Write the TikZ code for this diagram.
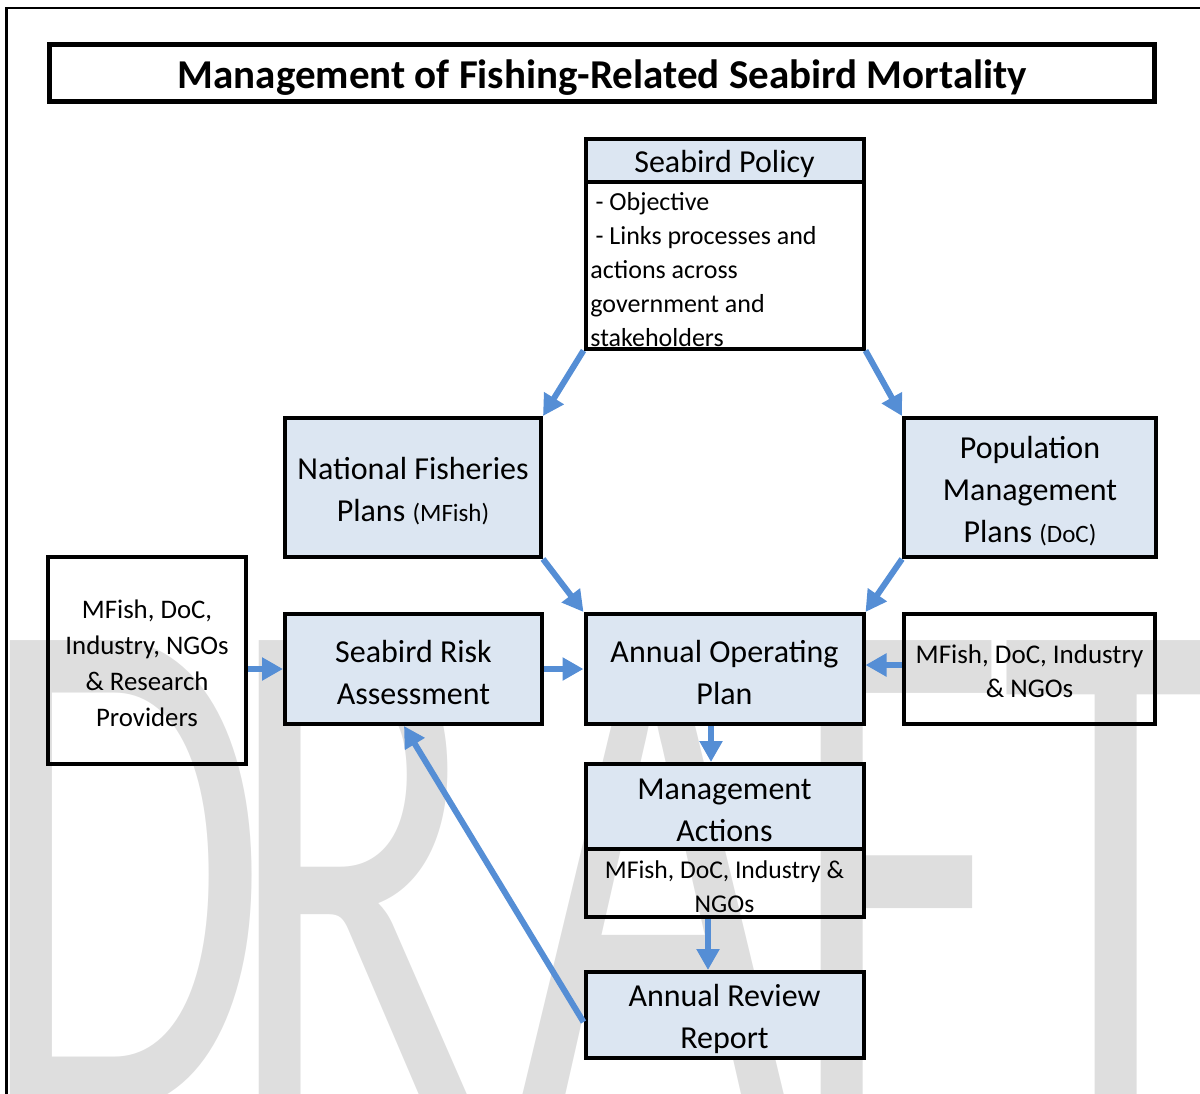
\documentclass[tikz,border=0pt]{standalone}
\usepackage{fontspec}
\setmainfont{Carlito}
\usetikzlibrary{arrows.meta,calc}
\definecolor{boxblue}{HTML}{DCE6F2}
\definecolor{arrblue}{HTML}{558ED5}
\definecolor{wmgray}{HTML}{DEDEDE}
\newcommand\lnfix[1]{\rule{0pt}{#1}}
\begin{document}
\begin{tikzpicture}[x=0.5pt,y=-0.5pt,
  box/.style={draw=black, line width=2pt, inner sep=0pt, align=center},
  bluebox/.style={box, fill=boxblue},
  arr/.style={draw=arrblue, line width=3pt, -{Triangle[length=10.5pt,width=11pt]}},
  big/.style={font=\fontsize{16}{21}\selectfont},
  small/.style={font=\fontsize{13.4}{18}\selectfont}]
\path[use as bounding box, clip] (0,0) rectangle (1200,1093);
% watermark
\node[anchor=base west, inner sep=0pt, text=wmgray, font=\fontsize{235}{235}\selectfont] (wm) at (-22,1109) {\scalebox{1}[1.555]{D\kern-21pt R\kern18.5pt A\kern0pt F\kern-2pt T}};
% outer frame
\draw[line width=1.2pt] (6.5,1300) -- (6.5,8) -- (1300,8);
% title
\node[box, line width=2.5pt, minimum width=552.5pt, minimum height=28.4pt, font=\bfseries\fontsize{20.5}{24}\selectfont] (title) at (602.3,72.6) {\lnfix{19.5pt}Management of Fishing-Related Seabird Mortality};
% seabird policy
\node[bluebox, minimum width=139pt, minimum height=21.5pt, big] (pol) at (724.5,160) {\lnfix{15pt}Seabird Policy};
\node[box, minimum width=139pt, minimum height=83.5pt] (polb) at (724.5,265) {};
\node[anchor=north west, inner sep=0pt, align=left, font=\fontsize{13}{17}\selectfont] (polt) at (590,192) {\hspace*{2.6pt}- Objective\\\hspace*{2.6pt}- Links processes and\\actions across\\government and\\stakeholders};
% plans
\node[bluebox, minimum width=128pt, minimum height=69.5pt, big] (nfp) at (413,487.5) {\lnfix{15pt}National Fisheries\\Plans {\fontsize{12.5}{21}\selectfont(MFish)}};
\node[bluebox, minimum width=126pt, minimum height=69.5pt, big] (pmp) at (1030,487.5) {\lnfix{15pt}Population\\Management\\Plans {\fontsize{12.5}{21}\selectfont(DoC)}};
% middle row
\node[box, minimum width=99pt, minimum height=103.5pt, small] (lbox) at (147,660.5) {\lnfix{12.4pt}MFish, DoC,\\Industry, NGOs\\\& Research\\Providers};
\node[bluebox, minimum width=128.5pt, minimum height=55pt, big] (sra) at (413.5,669) {\lnfix{15pt}Seabird Risk\\Assessment};
\node[bluebox, minimum width=139pt, minimum height=55pt, big] (aop) at (724.5,669) {\lnfix{15pt}Annual Operating\\Plan};
\node[box, minimum width=125.5pt, minimum height=55pt, font=\fontsize{13.5}{17}\selectfont] (rbox) at (1029.5,669) {\lnfix{11.5pt}MFish, DoC, Industry\\\& NGOs};
% management actions
\node[bluebox, minimum width=139pt, minimum height=42.5pt, big] (ma) at (724.5,806.5) {\lnfix{14.5pt}Management\\Actions};
\node[box, minimum width=139pt, minimum height=34pt, font=\fontsize{12.8}{17}\selectfont] (mab) at (724.5,883) {\lnfix{12.5pt}MFish, DoC, Industry \&\\NGOs};
\node[bluebox, minimum width=139pt, minimum height=43pt, big] (arr) at (724.5,1015) {\lnfix{15pt}Annual Review\\Report};
% arrows
\draw[arr] (polb.south west) -- (nfp.north east);
\draw[arr] (polb.south east) -- (pmp.north west);
\draw[arr] (nfp.south east) -- (aop.north west);
\draw[arr] (pmp.south west) -- (aop.north east);
\draw[arr] (lbox.east |- sra.west) -- (sra.west);
\draw[arr] (sra.east) -- (aop.west);
\draw[arr] ([yshift=2pt]rbox.west) -- ([yshift=2pt]aop.east);
\draw[arr] ([xshift=-6.75pt]aop.south) -- ([xshift=-6.75pt]ma.north);
\draw[arr] ([xshift=-8.25pt]mab.south) -- ([xshift=-8.25pt]arr.north);
\draw[arr] ([yshift=-3.5pt]arr.west) -- ([xshift=-4.75pt]sra.south);
\end{tikzpicture}
\end{document}
